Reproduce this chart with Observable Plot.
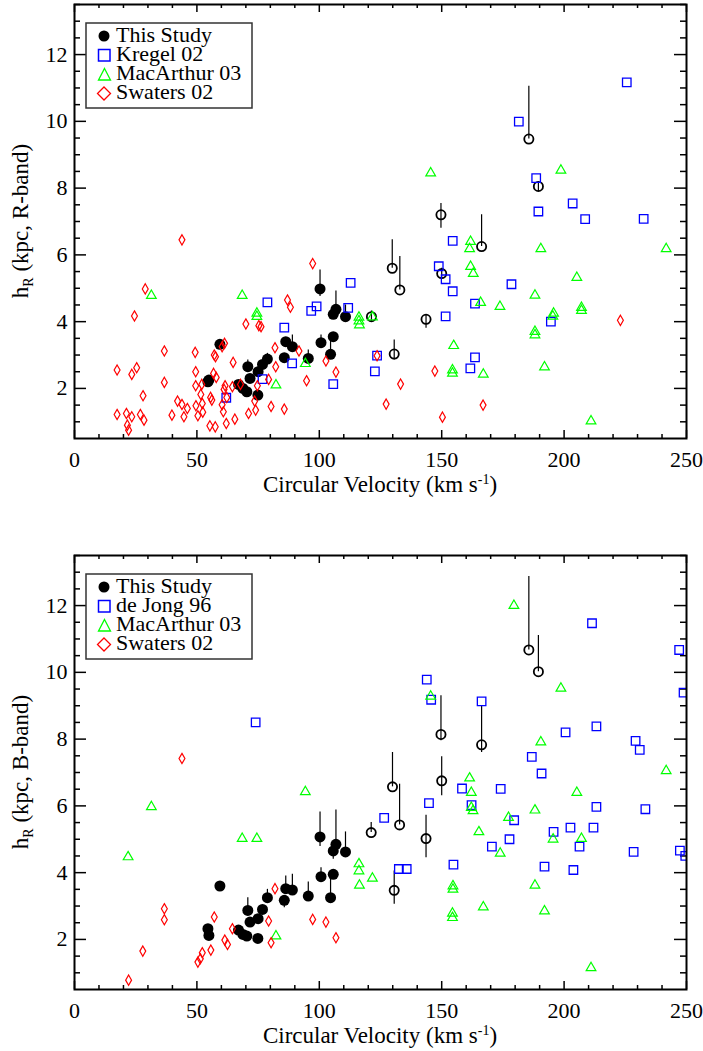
<!DOCTYPE html>
<html><head><meta charset="utf-8">
<script src="https://cdn.jsdelivr.net/npm/d3@7"></script>
<script src="https://cdn.jsdelivr.net/npm/@observablehq/plot@0.6"></script>
<style>
body{margin:0;background:#fff;}
#chart{width:703px;}
#chart svg{display:block;}
</style></head><body><div id="chart"></div>
<script>
const FONT = "'Liberation Serif','Times New Roman',serif";
const xTicks = [0, 50, 100, 150, 200, 250];
const yTicks = [2, 4, 6, 8, 10, 12];
const xDomain = [0, 250];
const yDomain = [0.5, 13.5];
const legendR = ["This Study", "Kregel 02", "MacArthur 03", "Swaters 02"];
const legendB = ["This Study", "de Jong 96", "MacArthur 03", "Swaters 02"];
const xTitle = "Circular Velocity (km s";
const bandR = "R";
const bandB = "B";

// ---------- R band (top) ----------  [v, h, errLow, errHigh]
const thisStudyFilledR = [
 [54.5,2.20,2.20,2.20],[54.9,2.25,2.25,2.25],[59.4,3.32,3.32,3.45],[67.0,2.12,2.12,2.12],
 [68.8,2.00,2.00,2.00],[70.4,1.90,1.90,1.90],[70.8,2.65,2.65,2.85],[71.7,2.30,2.30,2.30],
 [75.0,2.50,2.50,2.50],[74.9,1.80,1.80,1.80],[76.8,2.72,2.72,2.72],[78.8,2.88,2.88,3.05],
 [85.7,2.92,2.92,2.92],[86.3,3.40,3.40,3.40],[89.0,3.25,3.25,3.60],[95.5,2.90,2.90,3.15],
 [100.3,4.98,4.75,5.55],[100.7,3.37,3.37,3.60],[104.6,3.02,3.02,3.45],[105.7,3.55,3.55,3.55],
 [105.7,4.22,4.22,4.22],[106.8,4.37,4.37,4.92],[110.7,4.15,4.15,4.50]
];
const thisStudyOpenR = [
 [121.3,4.15,3.98,4.32],[129.8,5.60,5.60,6.45],[130.6,3.03,2.85,3.45],[132.9,4.95,4.95,5.95],
 [143.6,4.07,3.80,4.20],[149.7,7.20,6.80,7.54],[150.0,5.44,5.30,5.60],[166.3,6.25,6.25,7.20],
 [185.6,9.47,9.47,11.05],[189.5,8.05,7.90,8.20]
];
const kregel02 = [
 [225.6,11.17],[181.5,9.99],[188.6,8.30],[189.5,7.30],[203.5,7.54],[208.6,7.07],[232.5,7.08],
 [178.5,5.12],[194.6,4.00],[154.5,6.42],[148.8,5.66],[151.6,5.27],[154.5,4.91],[163.6,4.54],
 [151.6,4.16],[163.6,2.93],[161.7,2.60],[112.8,5.16],[98.9,4.46],[96.7,4.32],[111.8,4.41],
 [85.7,3.82],[123.6,2.98],[122.7,2.51],[105.7,2.13],[88.9,2.75],[78.8,4.58],[76.8,2.28],[62.0,1.72]
];
const macArthur03R = [
 [145.5,8.45],[198.7,8.53],[190.5,6.18],[241.7,6.18],[205.2,5.32],[188.1,4.79],[173.8,4.45],
 [165.9,4.57],[207.1,4.42],[207.1,4.33],[195.7,4.25],[195.4,4.16],[188.1,3.70],[188.1,3.60],
 [192.0,2.64],[167.0,2.42],[211.0,1.02],[161.8,6.40],[161.4,6.18],[161.8,5.65],[162.9,5.44],
 [116.2,4.13],[116.2,4.02],[116.4,3.90],[121.7,4.14],[154.9,3.28],[154.4,2.55],[154.4,2.45],
 [94.3,2.74],[82.3,2.10],[31.4,4.78],[68.5,4.78],[74.5,4.25],[74.5,4.15]
];
const swaters02R = [
 [43.9,6.45],[28.9,4.98],[24.5,4.17],[36.7,3.12],[49.3,3.08],[17.4,2.55],[25.4,2.62],[23.4,2.42],
 [36.7,2.18],[49.5,2.50],[49.5,2.08],[28.0,1.78],[57.1,3.00],[57.6,2.95],[61.3,3.35],[60.3,3.25],
 [56.8,2.45],[57.9,2.33],[52.0,2.12],[51.6,1.82],[64.8,2.78],[70.0,3.93],[75.3,3.88],[76.2,3.85],
 [81.9,3.22],[82.2,2.65],[79.3,2.27],[74.7,2.08],[67.8,2.12],[61.5,2.08],[61.1,1.97],[62.2,1.73],
 [60.3,1.51],[60.8,1.30],[55.6,1.73],[56.1,1.65],[52.2,1.55],[52.4,1.29],[50.4,1.18],[49.6,1.48],
 [42.1,1.62],[43.9,1.52],[46.1,1.40],[44.7,1.15],[39.8,1.20],[17.4,1.22],[21.2,1.25],[23.4,1.15],
 [26.9,1.22],[28.4,1.05],[21.6,0.90],[22.1,0.75],[55.3,0.88],[57.5,0.85],[62.0,0.95],[65.5,1.08],
 [71.1,1.25],[74.0,1.35],[80.3,1.46],[73.6,1.62],[64.5,2.05],[97.3,5.74],[87.0,4.65],[88.2,4.43],
 [91.7,3.12],[102.7,2.82],[106.8,2.49],[94.8,2.23],[85.7,1.38],[123.6,2.98],[133.2,2.13],[127.3,1.53],
 [147.2,2.52],[150.3,1.14],[166.9,1.50],[223.0,4.04]
];

// ---------- B band (bottom) ----------
const thisStudyFilledB = [
 [54.5,2.32,2.32,2.32],[54.9,2.12,2.12,2.12],[59.4,3.60,3.60,3.60],[67.0,2.28,2.28,2.28],
 [68.8,2.15,2.15,2.15],[70.4,2.10,2.10,2.10],[70.8,2.87,2.87,3.25],[71.7,2.52,2.52,2.52],
 [75.0,2.62,2.62,2.62],[74.9,2.03,2.03,2.03],[76.8,2.90,2.90,2.90],[78.8,3.25,3.25,3.50],
 [85.7,3.17,2.95,3.17],[86.3,3.52,3.52,3.90],[89.0,3.48,3.48,3.95],[95.5,3.30,3.30,3.72],
 [100.3,5.07,4.78,5.82],[100.7,3.88,3.88,4.15],[104.6,3.25,3.25,3.90],[105.7,3.95,3.95,3.95],
 [105.7,4.65,4.40,4.65],[106.8,4.85,4.85,5.88],[110.7,4.62,4.62,5.22]
];
const thisStudyOpenB = [
 [121.2,5.20,5.20,5.50],[129.9,6.57,6.57,7.60],[130.6,3.47,3.05,4.05],[132.8,5.43,5.43,6.65],
 [143.6,5.02,4.45,5.72],[149.7,8.14,7.95,9.30],[150.0,6.75,6.30,7.47],[166.3,7.83,7.60,9.00],
 [185.6,10.67,10.67,12.87],[189.5,10.02,10.02,11.10]
];
const deJong96 = [
 [74.0,8.50],[143.9,9.78],[145.7,9.18],[166.3,9.13],[158.3,6.52],[211.4,11.47],[247.0,10.67],
 [248.8,9.39],[200.6,8.20],[213.2,8.38],[229.2,7.95],[230.9,7.68],[186.8,7.47],[190.8,6.97],
 [174.1,6.51],[213.2,5.97],[233.2,5.90],[179.6,5.57],[195.7,5.22],[202.6,5.35],[212.0,5.35],
 [177.7,5.00],[170.5,4.78],[206.3,4.78],[228.4,4.62],[247.3,4.66],[249.5,4.50],[192.0,4.18],
 [203.8,4.08],[126.5,5.64],[144.8,6.08],[162.2,6.02],[154.8,4.24],[132.5,4.11],[135.7,4.11]
];
const macArthur03B = [
 [31.4,5.97],[21.9,4.47],[68.5,5.02],[74.5,5.02],[82.3,2.10],[145.5,9.28],[161.4,6.83],
 [179.5,12.00],[198.7,9.52],[190.5,7.91],[241.7,7.05],[205.2,6.40],[188.1,5.87],[177.3,5.65],
 [195.5,5.00],[207.1,5.02],[173.9,4.58],[188.1,3.62],[167.0,2.97],[192.0,2.85],[211.0,1.15],
 [94.3,6.42],[162.1,6.40],[162.1,5.95],[162.8,5.85],[165.2,5.22],[116.2,4.26],[116.2,4.05],
 [116.4,3.62],[121.7,3.83],[154.6,3.60],[154.6,3.50],[154.4,2.78],[154.4,2.65]
];
const swaters02B = [
 [43.9,7.42],[36.7,2.92],[36.7,2.59],[27.9,1.65],[22.1,0.78],[50.4,1.32],[51.4,1.42],[52.2,1.60],
 [55.7,1.68],[57.1,2.67],[61.4,1.98],[62.5,1.85],[64.5,2.32],[79.3,2.55],[80.3,1.90],[81.9,3.52],
 [97.3,2.60],[102.7,2.52],[106.8,2.05]
];

const PW = 612, PH = 434;

function panel(opts) {
  const {height, filled, open, squares, triangles, diamonds, band, legend} = opts;
  const xMinor = d3.range(0, 251, 10).filter(v => v % 50 !== 0);
  const yMinor = d3.range(1, 13.6, 0.5).filter(v => v % 2 !== 0);
  const tickStyle = {stroke: "black", strokeWidth: 1.5};
  const bars = filled.concat(open).filter(d => d[2] !== d[3]);
  const svg = Plot.plot({
    width: 703, height,
    marginLeft: 74, marginRight: 17, marginTop: 4, marginBottom: height - 438,
    x: {domain: xDomain},
    y: {domain: yDomain},
    style: {fontFamily: FONT, fontSize: "22px", background: "white", color: "black"},
    marks: [
      Plot.axisX({ticks: xTicks, tickSize: 0, tickPadding: 13, fontSize: 22, label: null}),
      Plot.axisY({ticks: yTicks, tickSize: 0, tickPadding: 7, fontSize: 22, label: null}),
      Plot.tickX(xTicks, {x: d => d, insetTop: PH - 8, ...tickStyle}),
      Plot.tickX(xMinor, {x: d => d, insetTop: PH - 4, ...tickStyle}),
      Plot.tickX(xTicks, {x: d => d, insetBottom: PH - 8, ...tickStyle}),
      Plot.tickX(xMinor, {x: d => d, insetBottom: PH - 4, ...tickStyle}),
      Plot.tickY(yTicks, {y: d => d, insetRight: PW - 12, ...tickStyle}),
      Plot.tickY(yMinor, {y: d => d, insetRight: PW - 6, ...tickStyle}),
      Plot.tickY(yTicks, {y: d => d, insetLeft: PW - 12, ...tickStyle}),
      Plot.tickY(yMinor, {y: d => d, insetLeft: PW - 6, ...tickStyle}),
      Plot.ruleX(bars, {x: d => d[0], y1: d => d[2], y2: d => d[3], stroke: "black", strokeWidth: 1.2}),
      Plot.dot(filled, {x: d => d[0], y: d => d[1], r: 5.5, fill: "black"}),
      Plot.dot(open, {x: d => d[0], y: d => d[1], r: 4.6, stroke: "black", strokeWidth: 1.8, fill: "none"}),
      Plot.dot(squares, {x: d => d[0], y: d => d[1], symbol: "square", r: 4.8, stroke: "#0000ff", strokeWidth: 1.3, fill: "none", clip: true}),
      Plot.dot(triangles, {x: d => d[0], y: d => d[1], symbol: "triangle", r: 3.6, stroke: "#00ff00", strokeWidth: 1.2, fill: "none", clip: true}),
      Plot.dot(diamonds, {x: d => d[0], y: d => d[1], symbol: "diamond", r: 3.1, stroke: "#ff0000", strokeWidth: 1.2, fill: "none", clip: true}),
      Plot.frame({stroke: "black", strokeWidth: 2})
    ]
  });
  const s = d3.select(svg);
  const xt = s.append("text").attr("x", 380).attr("y", 438 + 54).attr("text-anchor", "middle")
    .attr("font-family", FONT).attr("font-size", 23).attr("fill", "black");
  xt.append("tspan").text(xTitle);
  xt.append("tspan").attr("dy", -8).attr("font-size", 14).text("-1");
  xt.append("tspan").attr("dy", 8).text(")");
  const yt = s.append("text").attr("transform", "translate(28,221) rotate(-90)").attr("text-anchor", "middle")
    .attr("font-family", FONT).attr("font-size", 23).attr("fill", "black");
  yt.append("tspan").text("h");
  yt.append("tspan").attr("dy", 5).attr("font-size", 14).text("R");
  yt.append("tspan").attr("dy", -5).text(" (kpc, " + band + "-band)");
  const g = s.append("g");
  g.append("rect").attr("x", 86).attr("y", 23).attr("width", 166).attr("height", 85)
    .attr("fill", "white").attr("stroke", "#333").attr("stroke-width", 1.5);
  g.append("circle").attr("cx", 104).attr("cy", 36).attr("r", 5.5).attr("fill", "black");
  g.append("rect").attr("x", 98.5).attr("y", 49.5).attr("width", 11.5).attr("height", 11.5)
    .attr("fill", "none").attr("stroke", "#0000ff").attr("stroke-width", 1.5);
  g.append("path").attr("d", "M104.5,68.5 L110.5,80 L98.5,80 Z").attr("fill", "none").attr("stroke", "#00ff00").attr("stroke-width", 1.3);
  g.append("path").attr("d", "M104,87 L110.5,93.5 L104,100 L97.5,93.5 Z").attr("fill", "none").attr("stroke", "#ff0000").attr("stroke-width", 1.3);
  const base = [42, 61, 80, 99];
  legend.forEach((t, i) => g.append("text").attr("x", 116).attr("y", base[i]).attr("text-anchor", "start")
    .attr("font-family", FONT).attr("font-size", 22).attr("fill", "black").text(t));
  return svg;
}

const root = document.getElementById("chart");
root.appendChild(panel({height: 551, filled: thisStudyFilledR, open: thisStudyOpenR, squares: kregel02,
  triangles: macArthur03R, diamonds: swaters02R, band: bandR, legend: legendR}));
root.appendChild(panel({height: 500, filled: thisStudyFilledB, open: thisStudyOpenB, squares: deJong96,
  triangles: macArthur03B, diamonds: swaters02B, band: bandB, legend: legendB}));
</script></body></html>
